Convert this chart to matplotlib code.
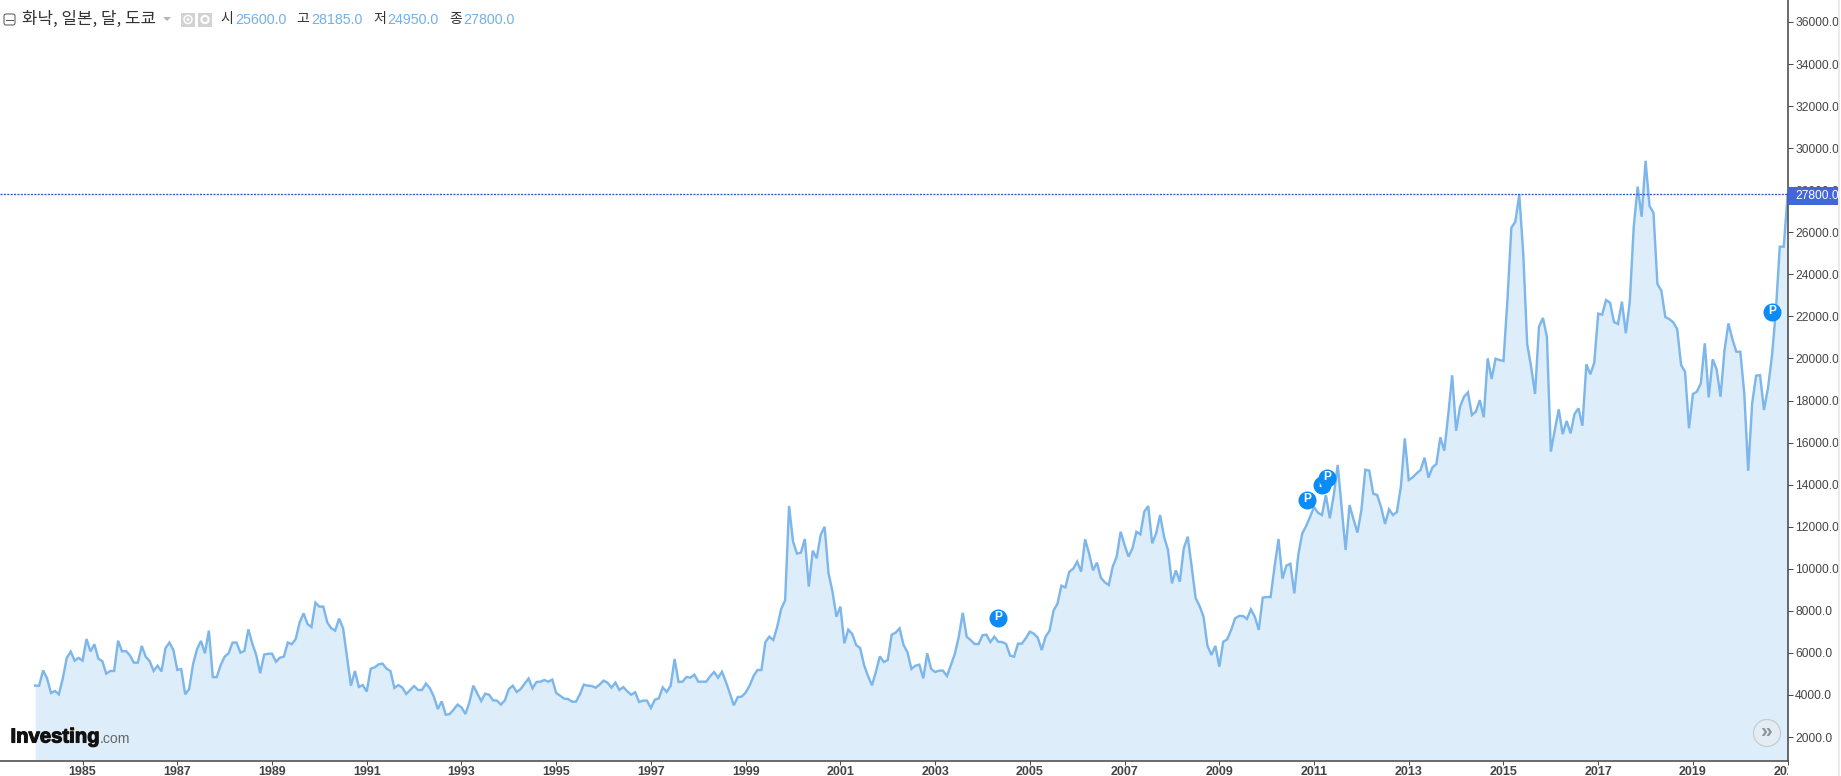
import numpy as np
import matplotlib
matplotlib.use("Agg")
import matplotlib.pyplot as plt
import matplotlib.patheffects as pe
from matplotlib.patches import Rectangle, Circle, FancyBboxPatch, Polygon
from matplotlib.transforms import Bbox

FIRST_YEAR = 1984
close_1984_1993 = [
    4440,4440,5170,4790,4090,4190,4030,4790,5760,6060,5630,5760,
    5630,6660,6070,6410,5725,5610,5010,5140,5140,6580,6070,6090,
    5880,5535,5535,6330,5820,5610,5140,5390,5120,6220,6490,6140,
    5190,5230,4030,4280,5470,6170,6570,5980,7060,4850,4850,5420,
    5820,5980,6490,6490,6010,6090,7120,6450,5900,5030,5915,5960,
    5960,5580,5770,5820,6490,6410,6660,7450,7880,7370,7230,8390,
    8200,8200,7450,7170,7060,7630,7170,5820,4440,5140,4380,4470,
    4160,5250,5310,5455,5490,5250,5140,4330,4470,4350,4045,4235,
    4425,4235,4235,4540,4315,3920,3330,3695,3060,3090,3300,3540,
    3410,3090,3650,4440,4075,3710,4060,4010,3745,3730,3540,3745,
]
close_1994_2003 = [
    4280,4440,4140,4280,4540,4780,4315,4615,4630,4710,4630,4730,
    4090,3965,3825,3805,3680,3680,4030,4490,4440,4425,4345,4490,
    4680,4585,4345,4585,4235,4375,4170,4010,4125,3665,3730,3730,
    3380,3775,3840,4360,4140,4440,5710,4615,4630,4855,4820,4965,
    4630,4630,4630,4885,5090,4820,5105,4615,4075,3505,3900,3920,
    4110,4440,4900,5185,5185,6515,6770,6610,7245,8085,8500,12985,
    11290,10720,10765,11415,9150,10860,10500,11605,12000,9780,8910,7720,
    8200,6455,7105,6900,6375,6230,5420,4900,4455,5105,5835,5565,
    5660,6865,6960,7165,6375,6025,5235,5390,5440,4790,5980,5235,
    5090,5155,5155,4900,5420,5960,6770,7910,6770,6610,6420,6420,
]
close_2004_2013 = [
    6835,6865,6515,6770,6530,6515,6420,5870,5820,6440,6440,6705,
    7010,6915,6725,6135,6770,7055,8005,8340,9195,9115,9860,10005,
    10340,9860,11400,10730,9925,10290,9575,9355,9225,10100,10570,11760,
    11130,10575,10970,11760,11635,12715,12985,11210,11685,12555,11525,10890,
    9305,9925,9385,10970,11525,10100,8610,8230,7720,6340,5900,6330,
    5345,6530,6645,7090,7640,7755,7755,7610,8070,7720,7090,8625,
    8655,8655,10100,11415,9530,10150,10240,8830,10650,11670,12030,12475,
    12935,12665,12555,13505,12400,13505,14935,12920,10890,13030,12350,11715,
    12795,14710,14665,13570,13505,12920,12130,12825,12555,12700,13900,16200,
    14220,14346,14537,14695,15280,14330,14820,14980,16250,15615,17310,19200,
]
close_2014_2021 = [
    16565,17707,18180,18390,17310,17470,18020,17200,20005,19025,19990,19925,
    19880,22780,26220,26500,27800,25000,20687,19610,18310,21510,21925,21035,
    15567,16600,17580,16400,17025,16440,17360,17628,16803,19720,19245,19800,
    22130,22082,22780,22650,21733,21640,22700,21200,22700,26260,28170,26740,
    29400,27250,26930,23540,23220,21970,21875,21720,21400,19690,19370,16680,
    18310,18420,18820,20720,18150,19960,19480,18180,20400,21670,20910,20320,
    20320,18340,14660,17860,19180,19210,17550,18580,20080,22224,25315,25315,
    27800,
]
close = close_1984_1993 + close_1994_2003 + close_2004_2013 + close_2014_2021
last_close = 27800
event_months = [243.9, 322.2, 326.0, 327.3, 440.0]
event_values = [7658, 13270, 13983, 14315, 22209]
tick_years = list(range(1985, 2022, 2))
price_ticks = list(range(2000, 36001, 2000))
title = "화낙, 일본, 달, 도쿄"
ohlc_names = ["시", "고", "저", "종"]
ohlc_values = ["25600.0", "28185.0", "24950.0", "27800.0"]

W, H = 1841, 776
AX_R, AX_B = 1788, 761
M0, MPX = 35.2, 3.947
Y2K, YPX = 737, 21.03 / 1000
LINE, FILL = "#7db6ea", "#ddeefa"
AXC, TXT = "#4a4a4a", "#444444"
SANS = "Liberation Sans"
KR = ["Noto Sans CJK KR", "DejaVu Sans"]
px = lambda n: n * 0.72

fig = plt.figure(figsize=(W / 100, H / 100), dpi=100, facecolor="white")
ax = fig.add_axes([0, (H - AX_B) / H, AX_R / W, AX_B / H])
ax.set_facecolor("white")
ax.set_xlim(-M0 / MPX, (AX_R - M0) / MPX)
ax.set_ylim(2000 - (AX_B - Y2K) / YPX, 2000 + Y2K / YPX)

x = np.arange(len(close))
base = 2000 - (AX_B - 1.5 - Y2K) / YPX
ax.fill_between(x, close, base, color=FILL, lw=0, zorder=1)
ax.plot(x, close, color=LINE, lw=px(2.4), solid_joinstyle="miter", zorder=2)
ax.axhline(last_close, color="#2f55d8", lw=px(1.3), ls=(0, (1.6, 1.0)), zorder=3)

for i, (m, v) in enumerate(zip(event_months, event_values)):
    ax.plot([m], [v], "o", ms=px(18), mfc="#0a8bf5", mew=0, zorder=4 + i * 0.1)
    ax.text(m, v + 30, "P", color="white", fontsize=px(12), fontweight="bold",
            family=SANS, ha="center", va="center", zorder=4.05 + i * 0.1)

for s in ["top", "left"]:
    ax.spines[s].set_visible(False)
for s in ["right", "bottom"]:
    ax.spines[s].set_color(AXC)
    ax.spines[s].set_linewidth(px(1.6))
ax.yaxis.tick_right()
ax.set_yticks(price_ticks)
ax.set_yticklabels([f"{t}.0" for t in price_ticks], fontsize=px(12), family=SANS, color=TXT)
ax.tick_params(axis="y", length=px(5), width=px(1), color=AXC, pad=px(2))
ax.set_xticks([(y - FIRST_YEAR) * 12 for y in tick_years])
ax.set_xticklabels([str(y) for y in tick_years], fontsize=px(12.5), family=SANS,
                   fontweight="bold", color=TXT)
ax.tick_params(axis="x", length=px(4), width=px(1), color=AXC, pad=px(1))
last = ax.get_xticklabels()[-1]
last.set_clip_on(True)
last.set_clip_box(Bbox([[0, 0], [AX_R, H]]))

# overlay in pixel coordinates for the chart furniture
ov = fig.add_axes([0, 0, 1, 1], zorder=10)
ov.set_xlim(0, W)
ov.set_ylim(H, 0)
ov.axis("off")
ov.patch.set_alpha(0)

ov.plot([1839.5, 1839.5], [0, H], color="#e4e4e4", lw=px(1.5))

ov.add_patch(Rectangle((1788.5, 187), 50, 17.5, fc="#4366d9", ec="none"))
ov.text(1795, 196, f"{last_close}.0", color="white", fontsize=px(12), family=SANS,
        ha="left", va="center")

# header
ov.add_patch(FancyBboxPatch((4, 14), 11, 11, boxstyle="round,pad=0,rounding_size=2",
                            fc="white", ec="#555555", lw=px(1)))
ov.plot([6, 13], [19.5, 19.5], color="#555555", lw=px(1))
ov.text(22, 19.5, title, family=KR, fontsize=px(16.8), color="#333333", ha="left", va="center")
ov.add_patch(Polygon([[163, 17], [171, 17], [167, 21]], fc="#b5b5b5", ec="none"))
for x0 in (181, 198):
    ov.add_patch(Rectangle((x0, 12.5), 14, 14, fc="#d2d2d2", ec="none"))
ov.add_patch(Circle((188, 19.5), 4, fc="none", ec="white", lw=px(1.5)))
ov.add_patch(Circle((188, 19.5), 1.4, fc="white", ec="none"))
ov.add_patch(Circle((205, 19.5), 3.6, fc="none", ec="white", lw=px(2.2)))

for name, nx, val, vx in zip(ohlc_names, (220, 296, 373, 449), ohlc_values, (235, 311, 387, 463)):
    ov.text(nx, 19.5, name, family=KR, fontsize=px(14), color="#333333", ha="left", va="center")
    ov.text(vx, 20, val, family=SANS, fontsize=px(14.3), color="#6fb1ee", ha="left", va="center")

# logo
logo = ov.text(10.5, 737, "Investing", family=SANS, fontweight="bold", fontsize=px(20.3),
               color="#111111", ha="left", va="center")
logo.set_path_effects([pe.withStroke(linewidth=0.8, foreground="#111111")])
ov.text(100, 739, ".com", family=SANS, fontsize=px(14), color="#666666", ha="left", va="center")
ov.add_patch(Circle((73, 729), 1.8, fc="#f9a11b", ec="none"))

# scroll button
ov.add_patch(Circle((1767, 733), 13.5, fc="#e4edf3", ec="#c3ccd3", lw=px(1.2)))
ov.text(1767, 731, "»", family=SANS, fontweight="bold", fontsize=px(21), color="#8a949c",
        ha="center", va="center")

fig.savefig("out.png", dpi=100, facecolor="white")
